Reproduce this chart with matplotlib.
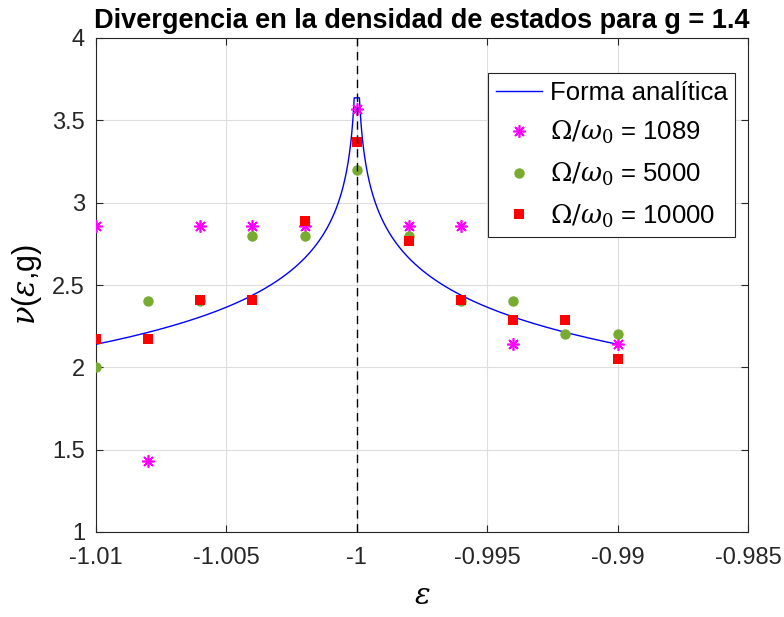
import numpy as np
import matplotlib
matplotlib.use("Agg")
import matplotlib.pyplot as plt

plt.rcParams['font.family'] = ['Liberation Sans', 'DejaVu Sans']
plt.rcParams['mathtext.fontset'] = 'dejavuserif'

# Data
eps_pts = [-1.010, -1.008, -1.006, -1.004, -1.002, -1.000, -0.998, -0.996, -0.994, -0.992, -0.990]
nu_1089 = [2.857, 1.429, 2.857, 2.857, 2.857, 3.571, 2.857, 2.857, 2.143, 2.857, 2.143]
nu_5000 = [2.0, 2.4, 2.4, 2.8, 2.8, 3.2, 2.8, 2.4, 2.4, 2.2, 2.2]
nu_10000 = [2.17, 2.17, 2.41, 2.41, 2.89, 3.37, 2.77, 2.41, 2.29, 2.29, 2.05]

# Analytic form: nu = nu_edge - b*ln(|eps+1|/d_edge)
nu_edge = 2.14
b_log = 0.325
d_edge = 0.01
d_min = 1e-4

xticks = [-1.01, -1.005, -1.0, -0.995, -0.99, -0.985]
xticklabels = ['-1.01', '-1.005', '-1', '-0.995', '-0.99', '-0.985']
yticks = [1, 1.5, 2, 2.5, 3, 3.5, 4]
yticklabels = ['1', '1.5', '2', '2.5', '3', '3.5', '4']

d = np.geomspace(d_edge, d_min, 400)
x_curve = np.concatenate([-1 - d, (-1 + d)[::-1]])
y_curve = np.concatenate([nu_edge - b_log * np.log(d / d_edge),
                          (nu_edge - b_log * np.log(d / d_edge))[::-1]])

fig = plt.figure(figsize=(7.84, 6.17), dpi=100)
ax = fig.add_axes([96/784, 1-532/617, 652/784, 494/617])

ax.plot(x_curve, y_curve, color=(0, 0, 1), lw=1.0, label='Forma analítica', zorder=3)
ax.plot(eps_pts, nu_1089, ls='none', marker=(8, 2, 0), ms=9, mew=1.2,
        color=(1, 0, 1), label=r'$\Omega/\omega_0$ = 1089', zorder=4)
ax.plot(eps_pts, nu_5000, ls='none', marker='o', ms=7.5, mew=0,
        color=(0.466, 0.674, 0.188), label=r'$\Omega/\omega_0$ = 5000', zorder=5)
ax.plot(eps_pts, nu_10000, ls='none', marker='s', ms=7.5, mew=0,
        color=(1, 0, 0), label=r'$\Omega/\omega_0$ = 10000', zorder=6)
ax.axvline(-1.0, color='k', ls=(0, (6, 4)), lw=1.0, zorder=7)

ax.set_xlim(-1.01, -0.985)
ax.set_ylim(1, 4)
ax.set_xticks(xticks)
ax.set_xticklabels(xticklabels)
ax.set_yticks(yticks)
ax.set_yticklabels(yticklabels)
ax.tick_params(direction='in', length=5, width=0.8, labelsize=17, colors=(0.15, 0.15, 0.15),
               top=True, right=True, pad=8)
ax.tick_params(axis='x', pad=10.5)
ax.grid(True, color=(0.87, 0.87, 0.87), lw=0.8)
ax.set_axisbelow(True)
for s in ax.spines.values():
    s.set_color((0.15, 0.15, 0.15))
    s.set_linewidth(0.8)

ax.set_title('Divergencia en la densidad de estados para g = 1.4', fontsize=19.5,
             fontweight='bold', pad=7)
ax.set_xlabel(r'$\epsilon$', fontsize=21, labelpad=10)
ax.set_ylabel(r'$\nu$($\epsilon$,g)', fontsize=22, labelpad=6)

leg = ax.legend(loc='upper right', bbox_to_anchor=(0.980, 0.929), borderaxespad=0,
                fontsize=18.5, fancybox=False, framealpha=1, edgecolor=(0.15, 0.15, 0.15),
                handlelength=1.8, handletextpad=0.3, labelspacing=0.56, borderpad=0.3)
leg.get_frame().set_linewidth(0.8)
leg.set_zorder(10)

fig.savefig('out.png', dpi=100)
